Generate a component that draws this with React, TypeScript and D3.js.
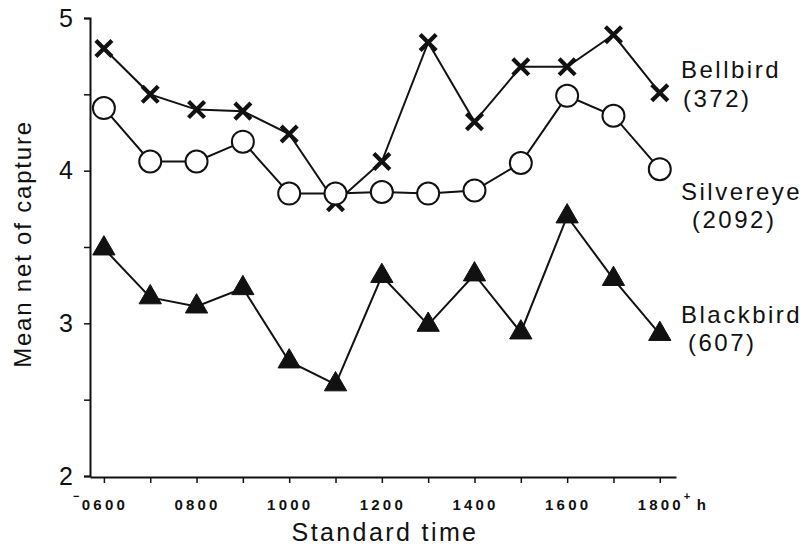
import React, { useEffect, useRef } from "react";
import * as d3 from "d3";

// hours of the day (standard time) at which nets were checked
const hours = [600, 700, 800, 900, 1000, 1100, 1200, 1300, 1400, 1500, 1600, 1700, 1800];

// mean net of capture
const bellbird = [4.80, 4.50, 4.40, 4.39, 4.24, 3.79, 4.06, 4.84, 4.32, 4.68, 4.68, 4.89, 4.51];
const silvereye = [4.41, 4.06, 4.06, 4.19, 3.85, 3.85, 3.86, 3.85, 3.87, 4.05, 4.49, 4.36, 4.01];
const blackbird = [3.49, 3.17, 3.11, 3.23, 2.75, 2.60, 3.31, 2.99, 3.32, 2.94, 3.70, 3.29, 2.93];

const yTicks = [2, 2.5, 3, 3.5, 4, 4.5, 5];
const xLabelHours = [600, 800, 1000, 1200, 1400, 1600, 1800];

const seriesNames = ["Bellbird", "Silvereye", "Blackbird"];
const seriesCounts = ["(372)", "(2092)", "(607)"];

const FONT = "'Liberation Sans', Arial, Helvetica, sans-serif";

const App = () => {
    const svgRef = useRef<SVGSVGElement>(null);

    useEffect(() => {
        const width = 807;
        const height = 546;

        const svg = d3.select(svgRef.current)
            .attr("width", width)
            .attr("height", height)
            .style("position", "absolute")
            .style("left", "0px")
            .style("top", "0px")
            .style("background", "#fff");
        svg.selectAll("*").remove();

        // Scales (x range runs a bit past first/last hour, like the axis line)
        const x = d3.scaleLinear().domain([570, 1835]).range([90, 676]);
        const y = d3.scaleLinear().domain([2, 5]).range([476, 18]);

        // Axes
        const yAxis = d3.axisLeft(y)
            .tickValues(yTicks)
            .tickSize(6)
            .tickPadding(11)
            .tickFormat((d: any) => (Number.isInteger(d) ? String(d) : ""));

        const gy = svg.append("g")
            .attr("transform", `translate(${x(570)},0)`)
            .call(yAxis);
        gy.select(".domain").attr("stroke", "#111").attr("stroke-width", 2);
        gy.selectAll(".tick line").attr("stroke", "#111").attr("stroke-width", 1.5);
        gy.selectAll(".tick text")
            .attr("font-family", FONT)
            .attr("font-size", 25)
            .attr("fill", "#111");

        const xAxis = d3.axisBottom(x)
            .tickValues(hours)
            .tickSize(6)
            .tickSizeOuter(0)
            .tickFormat(() => "");

        const gx = svg.append("g")
            .attr("transform", `translate(0,${y(2) + 1})`)
            .call(xAxis);
        gx.select(".domain").attr("stroke", "#111").attr("stroke-width", 2);
        gx.selectAll(".tick line").attr("stroke", "#111").attr("stroke-width", 1.5);

        // x tick labels, with the little "-" and "+ h" marks at the ends
        const xl = svg.append("g")
            .attr("font-family", FONT)
            .attr("font-size", 15)
            .attr("font-weight", "bold")
            .attr("fill", "#111");

        xl.selectAll("text.lab")
            .data(xLabelHours)
            .join("text")
            .attr("class", "lab")
            .attr("x", d => x(d) + 1)
            .attr("y", 510)
            .attr("text-anchor", "middle")
            .attr("letter-spacing", 3.2)
            .text(d => String(d).padStart(4, "0"));

        xl.append("text")
            .attr("x", x(600) - 31)
            .attr("y", 500)
            .attr("font-size", 11)
            .text("\u2212");
        xl.append("text")
            .attr("x", x(1800) + 24)
            .attr("y", 500)
            .attr("font-size", 11)
            .text("+");
        xl.append("text")
            .attr("x", x(1800) + 37)
            .attr("y", 510)
            .text("h");

        // Axis titles
        svg.append("text")
            .attr("transform", `translate(31,${y(3.5) - 3}) rotate(-90)`)
            .attr("text-anchor", "middle")
            .attr("font-family", FONT)
            .attr("font-size", 24)
            .attr("letter-spacing", 1.8)
            .attr("fill", "#111")
            .text("Mean net of capture");

        svg.append("text")
            .attr("x", 385)
            .attr("y", 541)
            .attr("text-anchor", "middle")
            .attr("font-family", FONT)
            .attr("font-size", 25)
            .attr("letter-spacing", 2.4)
            .attr("fill", "#111")
            .text("Standard time");

        // Lines
        const line = d3.line<number>()
            .x((d, i) => x(hours[i]))
            .y(d => y(d));

        const allSeries = [bellbird, silvereye, blackbird];
        allSeries.forEach(s => {
            svg.append("path")
                .datum(s)
                .attr("d", line)
                .attr("fill", "none")
                .attr("stroke", "#111")
                .attr("stroke-width", 2);
        });

        // Markers
        const crossSym = d3.symbol(d3.symbolTimes, 170);
        svg.append("g")
            .selectAll("path")
            .data(bellbird)
            .join("path")
            .attr("transform", (d, i) => `translate(${x(hours[i])},${y(d)})`)
            .attr("d", crossSym)
            .attr("fill", "none")
            .attr("stroke", "#111")
            .attr("stroke-width", 4.2);

        const circleSym = d3.symbol(d3.symbolCircle, Math.PI * 11 * 11);
        svg.append("g")
            .selectAll("path")
            .data(silvereye)
            .join("path")
            .attr("transform", (d, i) => `translate(${x(hours[i])},${y(d)})`)
            .attr("d", circleSym)
            .attr("fill", "#fff")
            .attr("stroke", "#111")
            .attr("stroke-width", 2);

        const triSym = d3.symbol(d3.symbolTriangle, 215);
        svg.append("g")
            .selectAll("path")
            .data(blackbird)
            .join("path")
            .attr("transform", (d, i) => `translate(${x(hours[i])},${y(d)})`)
            .attr("d", triSym)
            .attr("fill", "#111")
            .attr("stroke", "#111")
            .attr("stroke-width", 1);

        // Series labels on the right
        const nameY = [78, 200, 323];
        const countY = [107, 228, 351];
        const countX = [683, 692, 688];
        const lg = svg.append("g")
            .attr("font-family", FONT)
            .attr("font-size", 24)
            .attr("letter-spacing", 2.5)
            .attr("fill", "#111");
        seriesNames.forEach((n, i) => {
            lg.append("text").attr("x", 681).attr("y", nameY[i]).text(n);
            lg.append("text").attr("x", countX[i]).attr("y", countY[i]).text(seriesCounts[i]);
        });
    }, []);

    return <svg ref={svgRef}></svg>;
};

export default App;
